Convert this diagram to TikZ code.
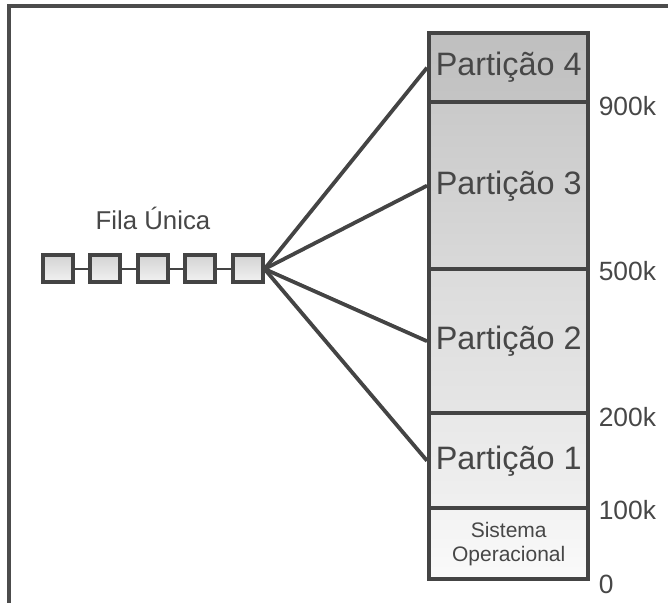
\documentclass[tikz,border=0pt]{standalone}
\usepackage{fontspec}
\setmainfont{Liberation Sans}
\usetikzlibrary{positioning}
\definecolor{linegray}{HTML}{444444}
\definecolor{textgray}{HTML}{474747}
\tikzset{
  part/.style={draw=linegray, line width=2.2pt, minimum width=79.5pt, inner sep=0pt, anchor=north west, text=textgray, font=\fontsize{16.2}{18}\selectfont},
  qbox/.style={draw=linegray, line width=2pt, minimum width=15pt, minimum height=13.5pt, inner sep=0pt, top color=black!17, bottom color=black!5},
  addr/.style={inner sep=0pt, text=textgray, font=\fontsize{13.2}{15}\selectfont},
  conn/.style={draw=linegray, line width=1.9pt},
}
\begin{document}
\begin{tikzpicture}[x=0.5pt,y=-0.5pt]
    \useasboundingbox (0,0) rectangle (668,603);
    \draw[line width=1.6pt, black!70] (9,620) -- (9,6) -- (690,6);
    % memoria
    \node[part, minimum height=34.5pt, top color=black!25, bottom color=black!23] (p4) at (427,31) {Partição 4};
    \node[part, minimum height=83.5pt, top color=black!21, bottom color=black!15] (p3) at (427,100) {Partição 3};
    \node[part, minimum height=72pt, top color=black!14, bottom color=black!10] (p2) at (427,267) {Partição 2};
    \node[part, minimum height=47.5pt, top color=black!9, bottom color=black!6] (p1) at (427,411) {Partição 1};
    \node[part, minimum height=35.5pt, top color=black!5, bottom color=black!2, align=center, font=\fontsize{10.5}{12}\selectfont] (so) at (427,506) {Sistema\\Operacional};
    \node[addr, anchor=west, right=4pt of p4.south east, yshift=-1pt] (a900) {900k};
    \node[addr, anchor=west, right=4pt of p3.south east] (a500) {500k};
    \node[addr, anchor=west, right=4pt of p2.south east, yshift=-1pt] (a200) {200k};
    \node[addr, anchor=west, right=4pt of p1.south east] (a100) {100k};
    \node[addr, anchor=west, right=4pt of so.south east, yshift=-1.5pt] (a0) {0};
    % fila
    \foreach \i in {1,...,5}
        \node[qbox] (q\i) at ({10+47.5*\i},269) {};
    \foreach \i/\j in {1/2,2/3,3/4,4/5}
        \draw[draw=linegray, line width=1pt] (q\i) -- (q\j);
    \node[addr, font=\fontsize{12.9}{14}\selectfont] (fila) at (153,218) {Fila Única};
    \draw[conn] (q5.east) -- (p4.west);
    \draw[conn] (q5.east) -- (p3.west);
    \draw[conn] (q5.east) -- (p2.west);
    \draw[conn] (q5.east) -- (p1.west);
\end{tikzpicture}
\end{document}
